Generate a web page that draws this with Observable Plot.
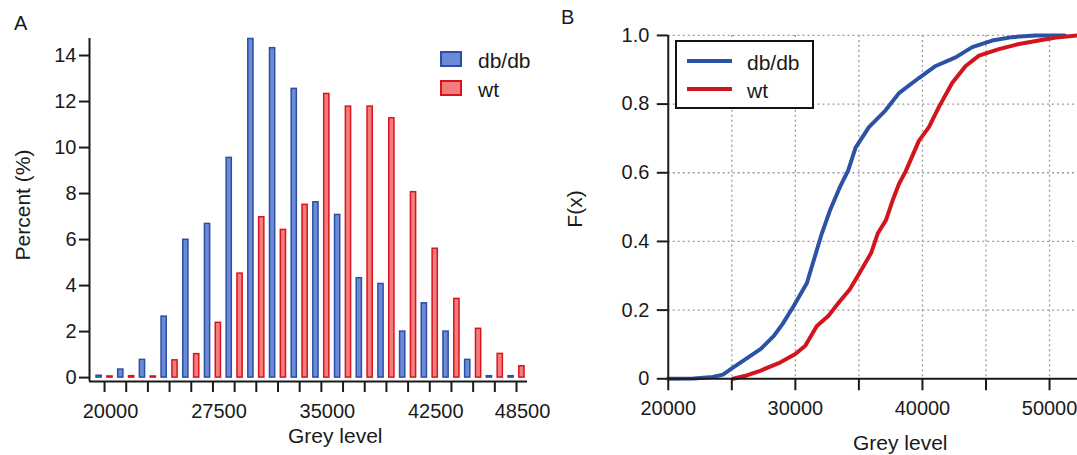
<!DOCTYPE html>
<html>
<head>
<meta charset="utf-8">
<script src="https://cdn.jsdelivr.net/npm/d3@7"></script>
<script src="https://cdn.jsdelivr.net/npm/@observablehq/plot@0.6"></script>
<style>
  html, body { margin: 0; padding: 0; background: #fff; overflow: hidden; }
  #wrap { position: relative; width: 1077px; height: 455px; overflow: hidden; background: #fff;
          font-family: "Liberation Sans", Arial, Helvetica, sans-serif; color: #1a1a1a; }
  .abs { position: absolute; line-height: 1; white-space: nowrap; }
  .t21 { font-size: 21px; }
</style>
</head>
<body>
<div id="wrap">
  <div id="plotA" class="abs" style="left:0;top:0"></div>
  <div id="plotB" class="abs" style="left:540px;top:0"></div>

  <div class="abs" style="left:14px;top:13px;font-size:20px">A</div>
  <div class="abs" style="left:561px;top:7px;font-size:20px">B</div>

  <div class="abs t21" style="left:22px;top:205px;transform:translate(-50%,-50%) rotate(-90deg)">Percent (%)</div>
  <div class="abs t21" style="left:288px;top:425px">Grey level</div>
  <div class="abs t21" style="left:574px;top:209px;transform:translate(-50%,-50%) rotate(-90deg)">F(x)</div>
  <div class="abs t21" style="left:853px;top:432px">Grey level</div>

  <!-- legend A -->
  <div class="abs" style="left:440px;top:51px;width:22px;height:16px;box-sizing:border-box;background:#6d8ad6;border:2px solid #2b4ea6"></div>
  <div class="abs t21" style="left:478px;top:50px">db/db</div>
  <div class="abs" style="left:440px;top:80px;width:22px;height:16px;box-sizing:border-box;background:#f37c7c;border:2px solid #d9141e"></div>
  <div class="abs t21" style="left:478px;top:79px">wt</div>

  <!-- legend B -->
  <div class="abs" style="left:675px;top:40px;width:139px;height:69px;box-sizing:border-box;background:#fff;border:2px solid #111"></div>
  <div class="abs" style="left:687px;top:59px;width:45px;height:4px;background:#2c52a6"></div>
  <div class="abs t21" style="left:747px;top:52px">db/db</div>
  <div class="abs" style="left:687px;top:87px;width:45px;height:4px;background:#d2141c"></div>
  <div class="abs t21" style="left:747px;top:80px">wt</div>
</div>
<script>
// ---------- Panel A: histogram data ----------
const bins = [20000, 21500, 23000, 24500, 26000, 27500, 29000, 30500, 32000, 33500,
              35000, 36500, 38000, 39500, 41000, 42500, 44000, 45500, 47000, 48500];
const binWidth = 1500;
const dbdbPercent = [0.08, 0.35, 0.77, 2.65, 5.99, 6.68, 9.55, 14.72, 14.32, 12.55,
                     7.62, 7.07, 4.32, 4.07, 2.0, 3.23, 2.0, 0.77, 0.06, 0.06];
const wtPercent   = [0.05, 0.06, 0.05, 0.75, 1.02, 2.38, 4.52, 6.97, 6.42, 7.51,
                     12.33, 11.78, 11.78, 11.27, 8.06, 5.6, 3.42, 2.12, 1.03, 0.49];
const histXLabels = [20000, 27500, 35000, 42500, 48500];
const histYTicks = [0, 2, 4, 6, 8, 10, 12, 14];

// ---------- Panel B: cumulative distributions ----------
const dbdbGrey = [20000, 22000, 23500, 24300, 25000, 26000, 27280, 28310, 29000, 29870,
                  30910, 31690, 32080, 32720, 33500, 34150, 34740, 35790, 37100, 38150,
                  39720, 41040, 42610, 43920, 45490, 47060, 48900, 51200];
const dbdbF    = [0, 0.001, 0.005, 0.012, 0.03, 0.055, 0.087, 0.125, 0.16, 0.212,
                  0.279, 0.375, 0.423, 0.49, 0.558, 0.606, 0.673, 0.733, 0.782, 0.832,
                  0.876, 0.911, 0.936, 0.966, 0.985, 0.995, 1.0, 1.0];
const wtGrey   = [25100, 26000, 27280, 28830, 30000, 30780, 31690, 32590, 33500, 34280,
                  35050, 35960, 36480, 37130, 37650, 38160, 38680, 39720, 40510, 41300,
                  42350, 43400, 44450, 46020, 47590, 49160, 50730, 52200];
const wtF      = [0, 0.008, 0.024, 0.048, 0.072, 0.096, 0.154, 0.183, 0.226, 0.26,
                  0.308, 0.366, 0.423, 0.462, 0.519, 0.568, 0.604, 0.693, 0.733, 0.792,
                  0.862, 0.911, 0.941, 0.96, 0.975, 0.985, 0.995, 1.0];
const cdfXTicks = [20000, 25000, 30000, 35000, 40000, 45000, 50000];
const cdfXLabels = [20000, 30000, 40000, 50000];
const cdfYTicks = [0, 0.2, 0.4, 0.6, 0.8, 1.0];

const blueFill = "#6d8ad6", blueStroke = "#2b4ea6";
const redFill = "#f37c7c", redStroke = "#d9141e";
const blueLine = "#2c52a6", redLine = "#d2141c";
const ink = "#1a1a1a";
const baseStyle = {fontSize: "20px", fontFamily: "'Liberation Sans', Arial, Helvetica, sans-serif", color: ink, background: "transparent", overflow: "visible"};

// Build histogram rows
const histRows = [];
bins.forEach((b, i) => {
  histRows.push({bin: b, series: "db/db", pct: dbdbPercent[i], lo: b - 0.37 * binWidth, hi: b - 0.13 * binWidth});
  histRows.push({bin: b, series: "wt", pct: wtPercent[i], lo: b + 0.13 * binWidth, hi: b + 0.37 * binWidth});
});
const histXDomain = [18960, 49260];
const histYDomain = [-0.17, 14.74];

const plotA = Plot.plot({
  width: 540, height: 455,
  marginLeft: 89, marginRight: 13, marginTop: 38, marginBottom: 74,
  style: baseStyle,
  x: {domain: histXDomain},
  y: {domain: histYDomain},
  marks: [
    Plot.rect(histRows, {
      x1: "lo", x2: "hi", y1: () => 0, y2: "pct",
      fill: d => d.series === "db/db" ? blueFill : redFill,
      stroke: d => d.series === "db/db" ? blueStroke : redStroke,
      strokeWidth: 1.5
    }),
    Plot.ruleX([histXDomain[0]], {stroke: ink, strokeWidth: 2}),
    Plot.ruleY([histYDomain[0]], {stroke: ink, strokeWidth: 2}),
    Plot.axisY({ticks: histYTicks, tickSize: 10, tickPadding: 3, tickFormat: d => String(d), label: null, strokeWidth: 2, stroke: ink, fill: ink}),
    Plot.axisX({ticks: bins, tickSize: 11, tickFormat: () => "", label: null, strokeWidth: 2, stroke: ink}),
    Plot.axisX({ticks: histXLabels, tickSize: 0, tickPadding: 22, dx: 6, tickFormat: d => String(d), label: null, fill: ink})
  ]
});
document.getElementById("plotA").appendChild(plotA);

// ---------- Panel B plot ----------
const cdfRows = [
  ...dbdbGrey.map((g, i) => ({grey: g, F: dbdbF[i], series: "db/db"})),
  ...wtGrey.map((g, i) => ({grey: g, F: wtF[i], series: "wt"}))
];
const cdfXDomain = [20000, 52200];

const plotB = Plot.plot({
  width: 538, height: 455,
  marginLeft: 128, marginRight: 0, marginTop: 35, marginBottom: 76,
  style: baseStyle,
  x: {domain: cdfXDomain},
  y: {domain: [0, 1]},
  marks: [
    Plot.gridX({ticks: cdfXTicks.slice(1), stroke: "#9a9a9a", strokeOpacity: 1, strokeWidth: 1.3, strokeDasharray: "2,3"}),
    Plot.gridY({ticks: cdfYTicks.slice(1), stroke: "#9a9a9a", strokeOpacity: 1, strokeWidth: 1.3, strokeDasharray: "2,3"}),
    Plot.line(cdfRows, {x: "grey", y: "F", z: "series",
      stroke: d => d.series === "db/db" ? blueLine : redLine,
      strokeWidth: 4, strokeLinejoin: "round"}),
    Plot.ruleX([cdfXDomain[0]], {stroke: ink, strokeWidth: 2}),
    Plot.ruleY([0], {stroke: ink, strokeWidth: 2}),
    Plot.axisY({ticks: cdfYTicks, tickSize: 11, tickPadding: 8, tickFormat: d => d === 0 ? "0" : d.toFixed(1), label: null, strokeWidth: 2, stroke: ink, fill: ink}),
    Plot.axisX({ticks: cdfXTicks, tickSize: 12, tickPadding: 10, tickFormat: d => cdfXLabels.includes(d) ? String(d) : "", label: null, strokeWidth: 2, stroke: ink, fill: ink})
  ]
});
document.getElementById("plotB").appendChild(plotB);
</script>
</body>
</html>
